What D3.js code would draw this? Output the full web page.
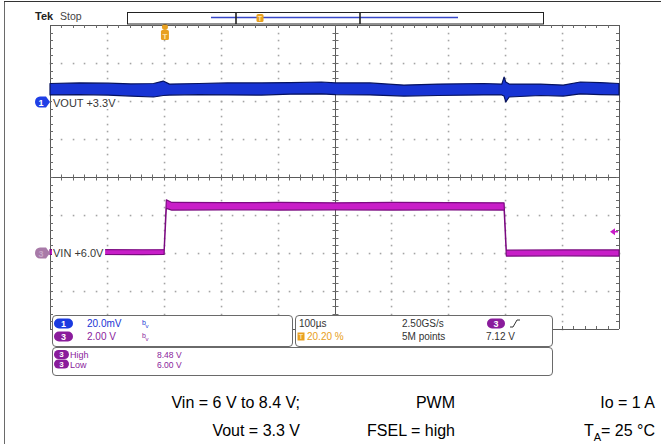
<!DOCTYPE html>
<html>
<head>
<meta charset="utf-8">
<script src="https://cdn.jsdelivr.net/npm/d3@7"></script>
<style>
  body { margin: 0; background: #fff; }
  svg { display: block; }
</style>
</head>
<body>
<div class="canvas"></div>
<script>
// Values
// time axis in us, trigger at 20.20 % of a 1 ms record (100 us/div)
const time_domain = [-202, 798];

// CH1 VOUT (AC ripple, mV around the +3.3 V offset), noisy band: upper / lower envelope
const vout_t  = [-202, -150, -100, -60, -20, -3, 8, 60, 110, 170, 220, 275, 300, 360, 420, 480, 560, 592, 596, 599, 605, 660, 700, 730, 765, 798];
const vout_hi = [9.2, 9.5, 9.4, 9.0, 9.2, 10.5, 8.9, 9.2, 9.5, 9.5, 9.7, 10.0, 9.5, 9.5, 8.4, 8.9, 9.2, 8.9, 12.6, 10.0, 8.9, 8.9, 8.4, 10.0, 9.7, 9.2];
const vout_lo = [3.2, 3.4, 3.1, 2.6, 2.1, 2.9, 3.1, 3.4, 3.2, 3.1, 3.6, 3.7, 3.4, 3.2, 2.6, 2.9, 3.2, 3.2, 2.6, -0.5, 2.1, 2.9, 2.6, 3.7, 3.4, 3.2];

// CH3 VIN (V), step 6 V -> 8.4 V -> 6 V
const vin_t  = [-202, -120, -40, -1.5, 2.5, 12, 100, 200, 300, 400, 500, 596, 600, 605, 700, 798];
const vin_hi = [6.18, 6.18, 6.17, 6.18, 8.80, 8.66, 8.65, 8.66, 8.64, 8.66, 8.65, 8.64, 6.16, 6.15, 6.16, 6.16];
const vin_lo = [5.92, 5.92, 5.91, 5.92, 8.35, 8.26, 8.27, 8.26, 8.27, 8.26, 8.27, 8.26, 5.84, 5.84, 5.85, 5.84];

const ch1_scale = 20;    // mV/div
const ch3_scale = 2;     // V/div
const ch3_offset = 6;    // V
const trig_level = 7.12; // V

const ch_labels = ["VOUT +3.3V", "VIN +6.0V"];
const vert_rows = [["1", "20.0mV"], ["3", "2.00 V"]];
const meas_rows = [["High", "8.48 V"], ["Low", "6.00 V"]];
const horiz_info = ["100\u00b5s", "20.20 %", "2.50GS/s", "5M points", "7.12 V"];
const caption_1 = ["Vin = 6 V to 8.4 V;", "PWM", "Io = 1 A"];
const caption_2 = ["Vout = 3.3 V", "FSEL = high"];

// Settings
const W = 661, H = 444;
const grid_color = "#a4a4a4";
const frame_color = "#5a5a5a";
const blue = "#1834d4";
const blue_edge = "#06125e";
const magenta = "#c81ec8";
const magenta_edge = "#7a0a80";
const purple = "#8a1c9c";
const orange = "#e8a020";
const scope_font = "'Liberation Sans', Arial, sans-serif";

const svg = d3.select(".canvas").append("svg")
  .attr("width", W).attr("height", H);

// outer border lines
svg.append("line").attr("x1", 4.5).attr("x2", 4.5).attr("y1", 1).attr("y2", H)
  .attr("stroke", "#6a6a6a");
svg.append("line").attr("x1", 4).attr("x2", W).attr("y1", 1.5).attr("y2", 1.5)
  .attr("stroke", "#333");

// graticule scales (divisions)
const gx = d3.scaleLinear().domain([0, 10]).range([50, 619]);
const gy = d3.scaleLinear().domain([0, 8]).range([25, 329]);

// data scales
const xScale = d3.scaleLinear().domain(time_domain).range([gx(0), gx(10)]);
const y1Scale = d3.scaleLinear().domain([0, ch1_scale]).range([gy(2), gy(1)]);
const y3Scale = d3.scaleLinear().domain([ch3_offset, ch3_offset + ch3_scale]).range([gy(6), gy(5)]);

const grid = svg.append("g");

// dotted division lines
let dots = [];
for (let i = 1; i < 10; i++) {
  if (i == 5) continue;
  d3.range(0, 41).forEach(k => dots.push([gx(i), gy(k / 5)]));
}
for (let j = 1; j < 8; j++) {
  if (j == 4) continue;
  d3.range(0, 51).forEach(k => dots.push([gx(k / 5), gy(j)]));
}
grid.selectAll("rect.dot")
  .data(dots)
  .enter()
  .append("rect")
  .attr("class", "dot")
  .attr("x", d => Math.round(d[0]) - 0.25)
  .attr("y", d => Math.round(d[1]) - 0.25)
  .attr("width", 1.6).attr("height", 1.6)
  .attr("fill", grid_color);

// frame and center lines
function hline(y, x1, x2) {
  grid.append("line").attr("x1", x1).attr("x2", x2)
    .attr("y1", Math.round(y) + 0.5).attr("y2", Math.round(y) + 0.5)
    .attr("stroke", frame_color);
}
function vline(x, y1, y2) {
  grid.append("line").attr("x1", Math.round(x) + 0.5).attr("x2", Math.round(x) + 0.5)
    .attr("y1", y1).attr("y2", y2)
    .attr("stroke", frame_color);
}
hline(gy(0), gx(0), gx(10));
hline(gy(8), gx(0), gx(10));
hline(gy(4), gx(0), gx(10));
vline(gx(0), gy(0), gy(8));
vline(gx(10), gy(0), gy(8));
vline(gx(5), gy(0), gy(8));

// minor ticks
let xticks = d3.range(1, 50).map(k => gx(k / 5));
let yticks = d3.range(1, 40).map(k => gy(k / 5));
function ticks_x(y, up, down) {
  grid.selectAll(null).data(xticks).enter().append("line")
    .attr("x1", d => Math.round(d) + 0.5).attr("x2", d => Math.round(d) + 0.5)
    .attr("y1", y - up).attr("y2", y + down)
    .attr("stroke", "#6a6a6a");
}
function ticks_y(x, left, right) {
  grid.selectAll(null).data(yticks).enter().append("line")
    .attr("y1", d => Math.round(d) + 0.5).attr("y2", d => Math.round(d) + 0.5)
    .attr("x1", x - left).attr("x2", x + right)
    .attr("stroke", "#6a6a6a");
}
ticks_x(gy(0), 0, 3);
ticks_x(gy(8), 3, 0);
ticks_x(Math.round(gy(4)) + 0.5, 3, 3);
ticks_y(gx(0), 0, 3);
ticks_y(gx(10), 3, 0);
ticks_y(Math.round(gx(5)) + 0.5, 3, 3);

// traces as filled envelopes
const vout_band = vout_t.map((t, i) => ({t: t, hi: vout_hi[i], lo: vout_lo[i]}));
const vin_band = vin_t.map((t, i) => ({t: t, hi: vin_hi[i], lo: vin_lo[i]}));

const area1 = d3.area()
  .x(d => xScale(d.t))
  .y0(d => y1Scale(d.lo))
  .y1(d => y1Scale(d.hi));
const area3 = d3.area()
  .x(d => xScale(d.t))
  .y0(d => y3Scale(d.lo))
  .y1(d => y3Scale(d.hi));

svg.append("path")
  .datum(vout_band)
  .attr("d", area1)
  .attr("fill", blue)
  .attr("stroke", blue_edge)
  .attr("stroke-width", 1.2)
  .attr("stroke-linejoin", "round");

svg.append("path")
  .datum(vin_band)
  .attr("d", area3)
  .attr("fill", magenta)
  .attr("stroke", magenta_edge)
  .attr("stroke-width", 1.2)
  .attr("stroke-linejoin", "round");

// channel markers and labels
function ch_marker(yc, color, label, txt_color) {
  const x0 = 35;
  svg.append("path")
    .attr("d", `M${x0 + 5},${yc - 5.5} H46 L50,${yc} L46,${yc + 5.5} H${x0 + 5} A5,5.5 0 0 1 ${x0 + 5},${yc - 5.5} Z`)
    .attr("fill", color);
  svg.append("text")
    .attr("x", x0 + 6).attr("y", yc + 3.5)
    .attr("text-anchor", "middle")
    .attr("font-family", scope_font).attr("font-size", "9px").attr("font-weight", "bold")
    .attr("fill", txt_color)
    .text(label);
}
ch_marker(Math.round(y1Scale(0)) + 1, "#1f3fe6", "1", "#fff");
ch_marker(Math.round(y3Scale(ch3_offset)), "#a87aa8", "3", "#c8a8c8");

function ch_label(y, txt) {
  const t = svg.append("text")
    .attr("x", 53).attr("y", y)
    .attr("font-family", scope_font).attr("font-size", "11px")
    .attr("fill", "#383838")
    .text(txt);
  const bb = t.node().getBBox();
  svg.insert("rect", "text:last-of-type")
    .attr("x", bb.x - 1).attr("y", bb.y).attr("width", bb.width + 2).attr("height", bb.height)
    .attr("fill", "#fff");
}
ch_label(y1Scale(0) + 6, ch_labels[0]);
ch_label(y3Scale(ch3_offset) + 4, ch_labels[1]);

// trigger level arrow on the right
const ty = y3Scale(trig_level);
svg.append("path")
  .attr("d", `M${gx(10) - 9},${ty} L${gx(10) - 4},${ty - 3.5} L${gx(10) - 4},${ty + 3.5} Z`)
  .attr("fill", magenta);
svg.append("line")
  .attr("x1", gx(10) - 5).attr("x2", gx(10) - 1).attr("y1", ty).attr("y2", ty)
  .attr("stroke", magenta).attr("stroke-width", 1.5);

// trigger position marker
const tx = xScale(0);
svg.append("circle").attr("cx", tx).attr("cy", 27).attr("r", 3).attr("fill", orange);
svg.append("rect").attr("x", tx - 4).attr("y", 30).attr("width", 8).attr("height", 10)
  .attr("rx", 1.5).attr("fill", orange);
svg.append("text").attr("x", tx).attr("y", 38.5).attr("text-anchor", "middle")
  .attr("font-family", scope_font).attr("font-size", "8px").attr("font-weight", "bold")
  .attr("fill", "#fbe3b0").text("T");

// top status
svg.append("text").attr("x", 35).attr("y", 20)
  .attr("font-family", scope_font).attr("font-size", "11px").attr("font-weight", "bold")
  .attr("fill", "#222").text("Tek");
svg.append("text").attr("x", 60).attr("y", 20)
  .attr("font-family", scope_font).attr("font-size", "10.5px")
  .attr("fill", "#444").text("Stop");

// record view bar
svg.append("rect").attr("x", 127.5).attr("y", 12.5).attr("width", 416).attr("height", 11.5)
  .attr("fill", "#fff").attr("stroke", "#222");
svg.append("line").attr("x1", 211).attr("x2", 458).attr("y1", 17.5).attr("y2", 17.5)
  .attr("stroke", "#3848c8").attr("stroke-width", 1.5);
[236, 360].forEach(x => {
  svg.append("line").attr("x1", x).attr("x2", x).attr("y1", 12.5).attr("y2", 24)
    .attr("stroke", "#222").attr("stroke-width", 1.6);
});
svg.append("rect").attr("x", 256.5).attr("y", 14).attr("width", 7).attr("height", 8)
  .attr("rx", 1.5).attr("fill", orange);
svg.append("text").attr("x", 260).attr("y", 21).attr("text-anchor", "middle")
  .attr("font-family", scope_font).attr("font-size", "7px").attr("font-weight", "bold")
  .attr("fill", "#fbe3b0").text("T");

// info panels
function panel(x, y, w, h) {
  svg.append("rect").attr("x", x + 0.5).attr("y", y + 0.5).attr("width", w).attr("height", h)
    .attr("rx", 3.5).attr("fill", "#fff").attr("stroke", "#6a6a6a");
}
panel(52, 315, 240, 31);
panel(295, 315, 257, 31);
panel(52, 347, 500, 28);

function pill(x, y, w, h, color, label) {
  svg.append("rect").attr("x", x).attr("y", y).attr("width", w).attr("height", h)
    .attr("rx", h / 2).attr("fill", color);
  svg.append("text").attr("x", x + w / 2).attr("y", y + h - 2)
    .attr("text-anchor", "middle")
    .attr("font-family", scope_font).attr("font-size", (h - 1) + "px").attr("font-weight", "bold")
    .attr("fill", "#fff").text(label);
}
function txt(x, y, s, color, size) {
  return svg.append("text").attr("x", x).attr("y", y)
    .attr("font-family", scope_font).attr("font-size", size + "px")
    .attr("fill", color).text(s);
}

// vertical settings
const row_y = [327, 340];
const row_col = [blue, purple];
vert_rows.forEach((r, i) => {
  pill(54, row_y[i] - 8.5, 19, 10, i == 0 ? "#1a3ae0" : purple, r[0]);
  txt(87, row_y[i], r[1], row_col[i], 10);
  txt(142, row_y[i] - 2, "b", row_col[i], 7);
  txt(145.5, row_y[i] + 0.5, "v", row_col[i], 6);
});

// horizontal / acquisition / trigger
txt(299, row_y[0], horiz_info[0], "#333", 10);
svg.append("rect").attr("x", 297.5).attr("y", row_y[1] - 7.5).attr("width", 7).attr("height", 8)
  .attr("fill", orange);
svg.append("text").attr("x", 301).attr("y", row_y[1] - 1).attr("text-anchor", "middle")
  .attr("font-family", scope_font).attr("font-size", "7px").attr("font-weight", "bold")
  .attr("fill", "#fbe3b0").text("T");
txt(307, row_y[1], horiz_info[1], orange, 10);
txt(402, row_y[0], horiz_info[2], "#333", 10);
txt(402, row_y[1], horiz_info[3], "#333", 10);
pill(487, row_y[0] - 8.5, 18, 10, purple, "3");
svg.append("path").attr("d", `M510,${row_y[0]} L513,${row_y[0]} L517,${row_y[0] - 7} L520,${row_y[0] - 7}`)
  .attr("fill", "none").attr("stroke", "#333");
txt(486, row_y[1], horiz_info[4], "#333", 10);

// measurements
const meas_y = [358, 367.5];
meas_rows.forEach((r, i) => {
  pill(54, meas_y[i] - 8, 15, 9, purple, "3");
  txt(70, meas_y[i], r[0], purple, 9);
  txt(157, meas_y[i], r[1], purple, 8.5);
});

// caption under the screenshot
const cap_x = [300, 455, 655];
const cap_font = "'Liberation Sans', Arial, sans-serif";
caption_1.forEach((s, i) => {
  svg.append("text").attr("x", cap_x[i]).attr("y", 408)
    .attr("text-anchor", "end")
    .attr("font-family", cap_font).attr("font-size", "16px")
    .attr("fill", "#000").text(s);
});
caption_2.forEach((s, i) => {
  svg.append("text").attr("x", cap_x[i]).attr("y", 436)
    .attr("text-anchor", "end")
    .attr("font-family", cap_font).attr("font-size", "16px")
    .attr("fill", "#000").text(s);
});
const ta = svg.append("text").attr("x", cap_x[2]).attr("y", 436)
  .attr("text-anchor", "end")
  .attr("font-family", cap_font).attr("font-size", "16px")
  .attr("fill", "#000");
ta.append("tspan").text("T");
ta.append("tspan").attr("font-size", "11px").attr("dy", 5).text("A");
ta.append("tspan").attr("dy", -5).text("= 25 \u00b0C");
</script>
</body>
</html>
